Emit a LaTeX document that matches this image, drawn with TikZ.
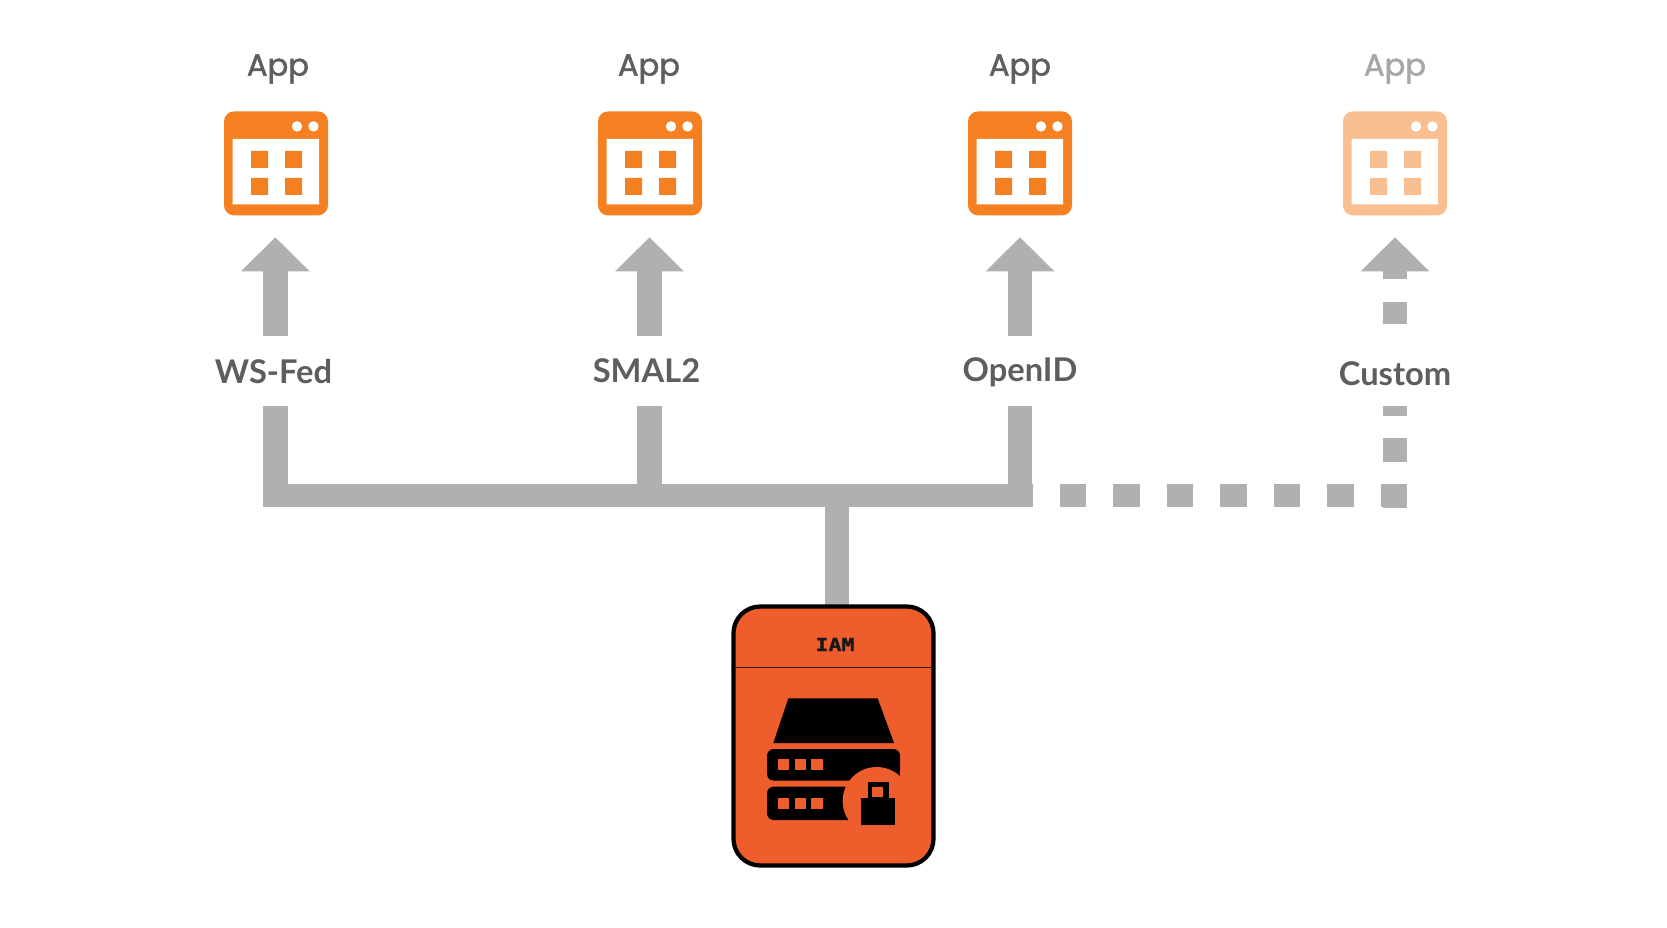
\documentclass[tikz,border=0pt]{standalone}
\usepackage{fontspec}
\setmainfont{Lato}
\newfontfamily\appfont[FakeBold=1.6]{Poppins}
\newfontfamily\iamfont[FakeBold=1.2]{DejaVu Sans Mono Bold}
\usetikzlibrary{arrows.meta}
\definecolor{appor}{HTML}{F58022}
\definecolor{iamor}{HTML}{EE5D2B}
\definecolor{barg}{HTML}{B0B0B0}
\definecolor{txtg}{HTML}{5E5E5E}
\newcommand{\appicon}[2]{%
  \begin{scope}[shift={#1},opacity=#2,transparency group]
    \fill[appor,rounded corners=7.5] (-52,-52) rectangle (52,52);
    \fill[white] (-43.5,-24.5) rectangle (43,41);
    \foreach \cx in {-25,9}{\foreach \cy in {-12.5,14.5}{
      \fill[appor] (\cx,\cy) rectangle ++(17,17);}}
    \fill[white] (21,-37) circle (5.2) (37.5,-37) circle (5.2);
  \end{scope}}
\tikzset{
  conn/.style={barg,line width=24.5*0.75pt,line cap=butt},
  bus/.style={barg,line width=23.5*0.75pt,line cap=butt},
  head/.style={-{Triangle[length=34*0.75pt,width=66.5*0.75pt]}},
  apptxt/.style={font=\appfont\fontsize{23}{26}\selectfont,text=txtg,anchor=center},
  prototxt/.style={font=\bfseries\fontsize{24.5}{28}\selectfont,text=txtg,anchor=center},
  iconbox/.style={minimum width=104*0.75pt,minimum height=104*0.75pt,inner sep=0pt}
}
\begin{document}
\begin{tikzpicture}[x=0.75pt,y=-0.75pt,line join=miter]
\useasboundingbox (0,0) rectangle (1667,928);
\fill[white] (0,0) rectangle (1667,928);
% icons
\appicon{(276,163.4)}{1}
\appicon{(650,163.4)}{1}
\appicon{(1020,163.4)}{1}
\appicon{(1395,163.4)}{0.5}
\node[iconbox] (app1) at (275.3,163) {};
\node[iconbox] (app2) at (649.5,163) {};
\node[iconbox] (app3) at (1020,163) {};
\node[iconbox] (app4) at (1395,163) {};
\node[apptxt] (t1) at (278,69) {App};
\node[apptxt] (t2) at (649,69) {App};
\node[apptxt] (t3) at (1020,69) {App};
\node[apptxt,text=txtg!55] (t4) at (1395,69) {App};
\node[prototxt] (p1) at (273.5,371) {WS-Fed};
\node[prototxt] (p2) at (646.5,371) {SMAL2};
\node[prototxt] (p3) at (1020,372.5) {OpenID};
\node[prototxt] (p4) at (1395,374) {Custom};
% anchor points
\coordinate (a1) at (275.3,336);
\coordinate (a2) at (649.5,336);
\coordinate (a3) at (1020,336);
\coordinate (a4) at (1395,324);
\coordinate (s1) at (275.3,406);
\coordinate (s2) at (649.5,406);
\coordinate (s3) at (1020,406);
\coordinate (s4) at (1395,507.5);
\coordinate (s4t) at (1395,406);
\coordinate (busstart) at (263,495.5);
\coordinate (busend) at (1020,495.5);
\coordinate (dstart) at (1006.5,495.5);
\coordinate (dend) at (1407.5,495.5);
\coordinate (stemtop) at (837,495.5);
\coordinate (stemend) at (837,606);
% arrows
\draw[conn,head,shorten >=22*0.75pt] (a1) -- (app1.south);
\draw[conn,head,shorten >=22*0.75pt] (a2) -- (app2.south);
\draw[conn,head,shorten >=22*0.75pt] (a3) -- (app3.south);
\draw[conn,head,shorten >=22*0.75pt,dash pattern=on 22*0.75pt off 23*0.75pt on 200*0.75pt] (a4) -- (app4.south);
% trunk
\draw[bus] (busstart) -- (busend);
\draw[conn] (s1) -- ++(0,101);
\draw[conn] (s2) -- ++(0,101);
\draw[conn] (s3) -- ++(0,101);
\draw[conn] (stemtop) -- (stemend);
\draw[bus,dash pattern=on 26.5*0.75pt off 26.95*0.75pt] (dstart) -- (dend);
\draw[conn,dash pattern=on 23.5*0.75pt off 22.5*0.75pt] (s4) -- (s4t);
% IAM
\node[draw=black,fill=iamor,line width=3.2pt,rounded corners=20,minimum width=200*0.75pt,minimum height=259*0.75pt,inner sep=0pt] (iam) at (833.5,736) {};
\draw[black!75!iamor,line width=0.8pt] (733.5,667.5) -- (933.5,667.5);
\node[font=\iamfont\fontsize{13.5}{15}\selectfont,text=black!90] (iamt) at (835,644.5) {\scalebox{1.2}[1]{IAM}};
\begin{scope}[shift={(700,590)},x=0.25pt,y=-0.25pt]
  \fill[black] (265,325) -- (533,325) -- (582,459) -- (220,459) -- cycle;
  \fill[black,rounded corners=5] (201,477) rectangle (600,572);
  \fill[black,rounded corners=5] (201,590) rectangle (500,690);
  \fill[iamor] (530,633) circle (102);
  \fill[iamor] (600,540) rectangle (640,700);
  \foreach \sx/\sw in {235/32,286/32,334/36}{
    \fill[iamor] (\sx,507) rectangle ++(\sw,34);
    \fill[iamor] (\sx,623) rectangle ++(\sw,34);}
  \fill[black] (484,623) rectangle (585,706);
  \fill[black] (503,575) rectangle (566,625);
  \fill[iamor] (517,590) rectangle (550,622);
\end{scope}
\end{tikzpicture}
\end{document}
